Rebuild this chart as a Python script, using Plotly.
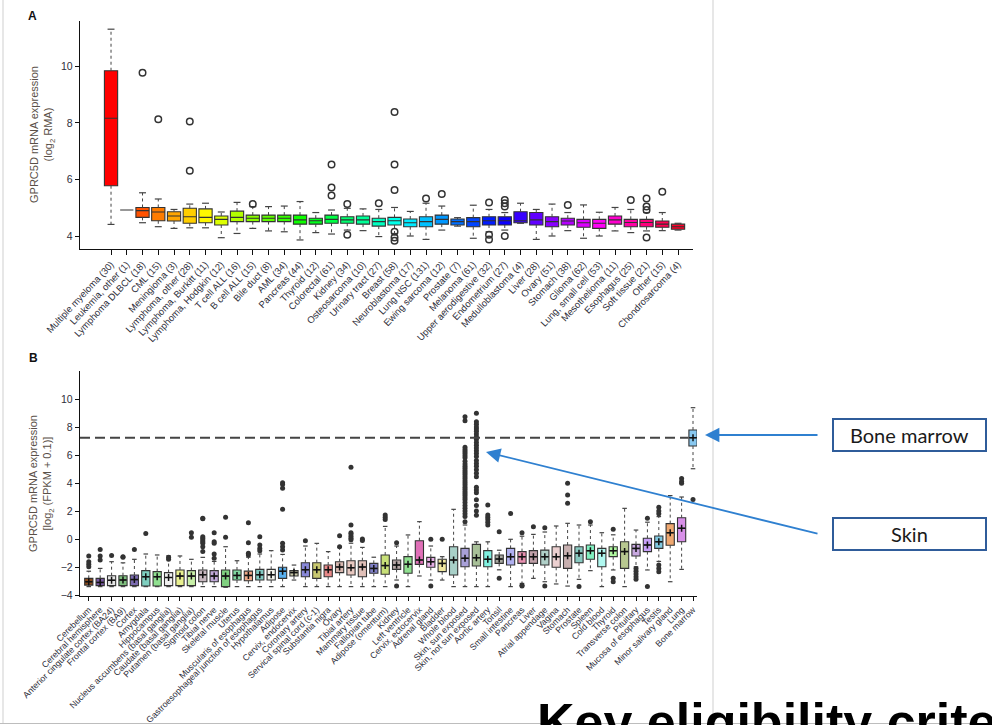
import colorsys
import plotly.graph_objects as go

W, H = 992, 725

# ---------------- Panel A data (log2 RMA) ----------------
A_CATS = ["Multiple myeloma (30)", "Leukemia, other (1)", "Lymphoma DLBCL (18)", "CML (15)",
          "Meningioma (3)", "Lymphoma, other (28)", "Lymphoma, Burkitt (11)", "Lymphoma, Hodgkin (12)",
          "T cell ALL (16)", "B cell ALL (15)", "Bile duct (8)", "AML (34)", "Pancreas (44)",
          "Thyroid (12)", "Colorectal (61)", "Kidney (34)", "Osteosarcoma (10)", "Urinary tract (27)",
          "Breast (58)", "Neuroblastoma (17)", "Lung NSC (131)", "Ewing sarcoma (12)", "Prostate (7)",
          "Melanoma (61)", "Upper aerodigestive (32)", "Endometrium (27)", "Medulloblastoma (4)",
          "Liver (28)", "Ovary (51)", "Stomach (38)", "Glioma (62)", "Lung, small cell (53)",
          "Mesothelioma (11)", "Esophagus (25)", "Soft tissue (21)", "Other (15)", "Chondrosarcoma (4)"]
A_Q1 = [5.78, 4.92, 4.66, 4.54, 4.53, 4.45, 4.47, 4.39, 4.51, 4.51, 4.51, 4.51, 4.42, 4.42, 4.45, 4.45,
        4.42, 4.35, 4.39, 4.33, 4.33, 4.42, 4.39, 4.33, 4.39, 4.39, 4.47, 4.39, 4.33, 4.39, 4.31, 4.27,
        4.42, 4.33, 4.33, 4.31, 4.24]
A_MED = [8.17, 4.92, 4.90, 4.85, 4.71, 4.68, 4.66, 4.59, 4.66, 4.63, 4.63, 4.63, 4.57, 4.54, 4.59, 4.57,
         4.57, 4.51, 4.54, 4.47, 4.51, 4.59, 4.51, 4.51, 4.54, 4.54, 4.54, 4.57, 4.51, 4.53, 4.47, 4.45,
         4.57, 4.48, 4.48, 4.42, 4.33]
A_Q3 = [9.85, 4.92, 5.01, 5.01, 4.86, 4.98, 4.96, 4.71, 4.88, 4.74, 4.74, 4.74, 4.74, 4.63, 4.74, 4.68,
        4.71, 4.63, 4.66, 4.60, 4.68, 4.74, 4.60, 4.65, 4.68, 4.68, 4.86, 4.83, 4.68, 4.63, 4.59, 4.59,
        4.71, 4.59, 4.59, 4.53, 4.42]
A_LO = [4.41, 4.92, 4.47, 4.33, 4.27, 4.29, 4.29, 3.94, 4.09, 4.27, 4.18, 4.15, 3.86, 4.12, 4.07, 4.21,
        4.19, 3.98, 4.09, 4.00, 3.88, 4.21, 4.35, 3.92, 4.15, 4.21, 4.45, 3.88, 4.00, 4.19, 3.92, 4.00,
        4.18, 4.12, 4.18, 4.19, 4.21]
A_HI = [11.32, 4.92, 5.53, 5.31, 4.94, 5.13, 5.16, 4.85, 5.19, 5.04, 5.04, 5.06, 5.22, 4.83, 4.92, 4.98,
        4.96, 4.94, 5.01, 4.87, 5.16, 5.06, 4.65, 5.09, 4.94, 4.83, 5.16, 4.94, 5.13, 4.83, 5.10, 4.84,
        5.01, 4.94, 4.83, 4.83, 4.45]
A_OUT = [[], [], [9.78], [8.13], [], [8.05, 6.31], [], [], [], [5.13], [], [], [], [],
         [6.53, 5.72, 5.43], [5.13, 4.04], [], [5.16], [8.39, 6.53, 5.63, 4.15, 3.95, 3.83], [], [5.33],
         [5.49], [], [], [5.19, 4.04, 3.88], [5.27, 5.16, 5.04, 4.00], [], [], [], [5.10], [], [], [],
         [5.27], [5.33, 5.04, 4.92, 3.95], [5.57], []]

# ---------------- Panel B data (log2(FPKM + 0.1)) ----------------
B_CATS = ["Cerebellum", "Cerebral hemisphere", "Anterior cingulate cortex (BA24)", "Frontal cortex (BA9)",
          "Cortex", "Amygdala", "Hippocampus", "Nucleus accumbens (basal ganglia)", "Caudate (basal ganglia)",
          "Putamen (basal ganglia)", "Sigmoid colon", "Tibial nerve", "Skeletal muscle", "Uterus",
          "Muscularis of esophagus", "Gastroesophageal junction of esophagus", "Hypothalamus", "Adipose",
          "Cervix, endocervix", "Coronary artery", "Servical spinal cord (c-1)", "Substantia nigra", "Ovary",
          "Tibial artery", "Mammary tissue", "Fallopian tube", "Adipose (omentum)", "Kidney",
          "Left ventricle", "Cervix, ectocervix", "Adrenal gland", "Bladder", "Whole blood",
          "Skin, sun exposed", "Skin, not sun exposed", "Aortic artery", "Tonsil", "Small intestine",
          "Pancreas", "Liver", "Atrial appendage", "Vagina", "Stomach", "Prostate", "Spleen", "Cold blood",
          "Thyroid", "Transverse colon", "Pituitary", "Mucosa of esophagus", "Testis",
          "Minor salivary gland", "Lung", "Bone marrow"]
B_Q1 = [-3.29, -3.33, -3.33, -3.33, -3.33, -3.36, -3.36, -3.33, -3.33, -3.33, -3.05, -3.05, -3.40, -2.93,
        -2.98, -2.93, -2.93, -2.81, -2.64, -2.69, -2.81, -2.69, -2.40, -2.57, -2.69, -2.45, -2.52, -2.17,
        -2.45, -1.81, -2.02, -2.33, -2.57, -1.98, -1.93, -1.98, -1.74, -1.86, -1.74, -1.74, -1.86, -2.02,
        -2.10, -1.69, -1.45, -1.98, -1.26, -2.10, -1.21, -0.90, -0.67, -0.45, -0.19, 6.64]
B_MED = [-3.05, -3.10, -2.95, -2.93, -2.90, -2.70, -2.70, -2.75, -2.65, -2.65, -2.55, -2.65, -2.65, -2.60,
         -2.60, -2.55, -2.55, -2.30, -2.40, -2.20, -2.20, -2.20, -2.00, -2.05, -2.00, -2.10, -1.90, -1.86,
         -1.80, -1.50, -1.62, -1.74, -1.50, -1.38, -1.33, -1.45, -1.43, -1.26, -1.26, -1.26, -1.26, -1.26,
         -1.20, -1.02, -0.83, -1.02, -0.83, -0.90, -0.67, -0.43, -0.19, 0.45, 0.76, 7.24]
B_Q3 = [-2.81, -2.81, -2.62, -2.62, -2.57, -2.26, -2.33, -2.40, -2.21, -2.26, -2.21, -2.26, -2.21, -2.21,
        -2.29, -2.17, -2.17, -2.02, -2.26, -1.69, -1.69, -1.86, -1.62, -1.55, -1.55, -1.74, -1.14, -1.50,
        -1.26, -0.12, -1.31, -1.45, -0.55, -0.67, -0.38, -0.83, -1.14, -0.67, -0.90, -0.83, -0.79, -0.55,
        -0.43, -0.55, -0.43, -0.67, -0.55, -0.19, -0.38, 0.05, 0.21, 1.10, 1.52, 7.79]
B_LO = [-3.40, -3.40, -3.40, -3.40, -3.40, -3.40, -3.40, -3.40, -3.40, -3.40, -3.40, -3.40, -3.45, -3.40,
        -3.40, -3.40, -3.40, -3.40, -2.93, -3.40, -3.40, -3.40, -3.40, -3.40, -3.40, -3.40, -3.40, -2.93,
        -3.40, -2.64, -2.93, -2.93, -3.40, -3.40, -3.40, -3.40, -2.20, -3.40, -3.17, -2.81, -3.05, -3.21,
        -3.36, -2.88, -2.26, -3.40, -2.21, -3.40, -1.98, -2.21, -1.60, -3.05, -2.17, 5.02]
B_HI = [-2.30, -2.10, -1.62, -1.70, -1.45, -1.07, -1.14, -1.20, -1.21, -1.45, -1.31, -1.60, -0.55, -1.55,
        -1.30, -1.07, -0.83, -1.10, -1.86, -0.50, -0.31, -0.90, -0.60, -0.30, -0.60, -1.30, 0.90, -0.50,
        0.29, 1.24, -0.50, -1.26, 2.12, 1.00, -0.20, -0.20, -0.80, -0.02, 0.20, 0.33, 0.50, 0.93,
        1.12, 1.00, 1.00, 0.45, 0.30, 2.19, 0.64, 1.20, 1.60, 3.10, 3.00, 9.38]
B_OUT = [[-1.21, -1.62, -1.80, -1.98], [-0.74, -1.21, -1.50], [-1.17], [-1.26, -1.30], [-0.74], [0.40], [],
         [-1.30, -1.45], [], [0.45, 0.12],
         [1.48, 1.45, 0.17, 0.05, -0.07, -0.20, -0.31, -0.55, -0.90],
         [0.45, -0.19, -0.31, -1.07, -1.38], [1.55, 0.12], [], [1.17, -0.26, -1.02, -1.14],
         [0.17, -0.43, -0.67, -0.83], [], [4.02, 3.90, 3.62, 2.12, -0.31, -0.55, -0.79], [], [-0.12], [], [],
         [0.24, -0.55], [5.12, 1.00, 0.45, 0.35, 0.20, 0.05, -0.05], [0.00, -0.10], [],
         [1.71, 1.55, 1.40], [-0.26, -3.36], [], [], [-0.02, -3.36], [-0.02], [],
         [8.74, 8.45, 6.55, 6.40, 6.25, 6.10, 5.95, 5.80, 5.55, 5.35, 5.20, 5.05, 4.90, 4.75, 4.60, 4.45,
          4.30, 4.15, 4.00, 3.85, 3.70, 3.55, 3.40, 3.25, 3.10, 2.95, 2.80, 2.60, 2.40, 2.20, 2.00, 1.80,
          1.60, 1.24],
         [8.98, 8.38, 8.20, 8.00, 7.85, 7.70, 7.50, 7.30, 7.10, 6.90, 6.70, 6.50, 6.30, 6.10, 5.90, 5.60,
          5.40, 5.20, 4.95, 4.70, 4.45, 3.70, 3.50, 3.30, 2.80, 2.40, 2.00, 1.70],
         [2.43, 1.71, 1.55, 1.40, 1.20, 1.00], [0.52, -2.81], [1.83], [0.45, -3.30, -3.36], [0.88],
         [0.81, -3.36], [], [3.98, 3.14, 2.55], [-3.40], [1.24], [], [0.69, -2.81, -3.05], [],
         [-2.10, -2.30, -2.50, -2.70, -2.88], [1.48, -3.40], [2.26, 2.00, 1.80, -1.86, -2.10, -2.33], [],
         [4.33, 4.10, 3.98], [2.83]]
B_COLORS = ["#8c4a1c", "#7b5aa6", "#e6e6e6", "#7fbf7f", "#7b6bb0", "#7fcfc0", "#90e090", "#f0f0f0",
            "#e8f090", "#c8f0a8", "#c8b8c0", "#c0a8d8", "#80d080", "#80d8a0", "#f0a888", "#80c8c0",
            "#f4f4ec", "#58b0f0", "#c8c8a8", "#8888d8", "#c8c870", "#e88888", "#d8b8b0", "#e8c8c0",
            "#e0c0b8", "#8080c8", "#c8e078", "#b8a8a8", "#90e090", "#e070b8", "#e8b0e8", "#f0e8a0",
            "#a8d0c8", "#a8a0d8", "#a8c098", "#80f0e0", "#a8a8a0", "#b0b0f0", "#e890b0", "#c0a0a8",
            "#b0d0c8", "#ecd0d0", "#c8b0b0", "#88c8c0", "#80f0c0", "#b0f8f0", "#b0f8a0", "#b8c890",
            "#c8a8e0", "#c8a0f8", "#80c8e0", "#f0a870", "#d890e8", "#88c8f0"]

FONT = "Liberation Sans, Arial, sans-serif"
TXT = "#2e2e3a"


def px_x(p):
    return p / W


def px_y(p):
    return 1 - p / H


def rainbow(n):
    out = []
    for i in range(n):
        r, g, b = colorsys.hsv_to_rgb(i / n, 1, 1)
        out.append("#%02x%02x%02x" % (int(r * 255), int(g * 255), int(b * 255)))
    return out


A_COLORS = rainbow(len(A_CATS))

fig = go.Figure()


def add_panel(xa, ya, q1s, meds, q3s, los, his, outs, colors, bw, cap, out_style, mean_marks):
    n = len(q1s)
    for i in range(n):
        fig.add_trace(go.Box(x=[i], q1=[q1s[i]], median=[meds[i]], q3=[q3s[i]],
                             lowerfence=[q1s[i]], upperfence=[q3s[i]], width=bw, whiskerwidth=0,
                             fillcolor=colors[i], line=dict(color="#333333", width=1.1),
                             boxpoints=False, hoverinfo="skip", showlegend=False,
                             xaxis=xa, yaxis=ya))
    wx, wy, cx, cy = [], [], [], []
    for i in range(n):
        if his[i] > q3s[i]:
            wx += [i, i, None]
            wy += [q3s[i], his[i], None]
            cx += [i - cap, i + cap, None]
            cy += [his[i], his[i], None]
        if los[i] < q1s[i]:
            wx += [i, i, None]
            wy += [q1s[i], los[i], None]
            cx += [i - cap, i + cap, None]
            cy += [los[i], los[i], None]
    fig.add_trace(go.Scatter(x=wx, y=wy, mode="lines", line=dict(color="#444", width=1, dash="dot"),
                             hoverinfo="skip", showlegend=False, xaxis=xa, yaxis=ya))
    fig.add_trace(go.Scatter(x=cx, y=cy, mode="lines", line=dict(color="#444", width=1.2),
                             hoverinfo="skip", showlegend=False, xaxis=xa, yaxis=ya))
    ox, oy = [], []
    for i in range(n):
        for v in outs[i]:
            ox.append(i)
            oy.append(v)
    fig.add_trace(go.Scatter(x=ox, y=oy, mode="markers", marker=out_style,
                             hoverinfo="skip", showlegend=False, xaxis=xa, yaxis=ya))
    if mean_marks:
        fig.add_trace(go.Scatter(x=list(range(n)), y=meds, mode="markers",
                                 marker=dict(symbol="cross-thin", size=5, line=dict(color="#111", width=1.5)),
                                 hoverinfo="skip", showlegend=False, xaxis=xa, yaxis=ya))


add_panel("x", "y", A_Q1, A_MED, A_Q3, A_LO, A_HI, A_OUT, A_COLORS, 0.84, 0.22,
          dict(symbol="circle-open", size=6.5, color="#333", line=dict(width=1.5, color="#333")), False)
add_panel("x2", "y2", B_Q1, B_MED, B_Q3, B_LO, B_HI, B_OUT, B_COLORS, 0.72, 0.2,
          dict(symbol="circle", size=5, color="#333"), True)

# dashed reference line at bone marrow median
bm = len(B_CATS) - 1
fig.add_trace(go.Scatter(x=[-0.77, bm - 0.4], y=[B_MED[bm], B_MED[bm]], mode="lines",
                         line=dict(color="#444", width=2, dash="10px,5px"),
                         hoverinfo="skip", showlegend=False, xaxis="x2", yaxis="y2"))


def axstyle(**kw):
    d = dict(showgrid=False, zeroline=False, showline=True, linecolor="#111", linewidth=1.4,
             ticks="outside", tickcolor="#111", ticklen=4, tickwidth=1.1, automargin=False)
    d.update(kw)
    return d


fig.update_layout(
    width=W, height=H, margin=dict(l=0, r=0, t=0, b=0, autoexpand=False),
    paper_bgcolor="white", plot_bgcolor="white", showlegend=False,
    font=dict(family=FONT, color=TXT),
    xaxis=axstyle(domain=[px_x(80), px_x(693)], range=[-1.97, 36.95], anchor="y",
                  tickmode="array", tickvals=list(range(len(A_CATS))), ticktext=A_CATS, tickangle=-47,
                  tickfont=dict(size=9.5, color=TXT, family=FONT), ticklen=5),
    yaxis=axstyle(domain=[px_y(249), px_y(21)], range=[3.54, 11.61], anchor="x",
                  tickvals=[4, 6, 8, 10], tickfont=dict(size=10.5, color=TXT, family=FONT)),
    xaxis2=axstyle(domain=[px_x(80), px_x(697)], range=[-0.77, 53.35], anchor="y2",
                   tickmode="array", tickvals=list(range(len(B_CATS))), ticktext=B_CATS, tickangle=-45,
                   tickfont=dict(size=8.8, color=TXT, family=FONT)),
    yaxis2=axstyle(domain=[px_y(596), px_y(371)], range=[-4.07, 12.0], anchor="x2",
                   tickvals=[-4, -2, 0, 2, 4, 6, 8, 10], tickfont=dict(size=10.5, color=TXT, family=FONT)),
)


def label(text, x, y, size, color, family=FONT, angle=0, xanchor="center", yanchor="middle"):
    return dict(text=text, x=px_x(x), y=px_y(y), xref="paper", yref="paper", showarrow=False,
                xanchor=xanchor, yanchor=yanchor, textangle=angle,
                font=dict(size=size, color=color, family=family))


ann = [
    label("<b>A</b>", 32, 16, 12, "#111"),
    label("<b>B</b>", 33, 358, 12, "#111"),
    label("GPRC5D mRNA expression<br>(log<sub>2</sub> RMA)", 42, 135, 11, "#5a5048", angle=-90),
    label("GPRC5D mRNA expression<br>[log<sub>2</sub> (FPKM + 0.1)]", 42, 484, 11, "#5a5048", angle=-90),
    label("Bone marrow", 909.5, 435, 20, "#1a1a1a", family="Lato, Carlito, sans-serif"),
    label("Skin", 909.5, 534, 20, "#1a1a1a", family="Lato, Carlito, sans-serif"),
    label("<b>Key eligibility criteria</b>", 535, 722, 52, "#000", xanchor="left"),
]
ann.append(dict(text="", x=px_x(705), y=px_y(435), xref="paper", yref="paper", showarrow=True,
                ax=114, ay=0, axref="pixel", ayref="pixel", arrowhead=2, arrowsize=1.6, arrowwidth=1.8,
                arrowcolor="#2f80d0", standoff=0))
ann.append(dict(text="", x=px_x(486), y=px_y(452), xref="paper", yref="paper", showarrow=True,
                ax=333, ay=82, axref="pixel", ayref="pixel", arrowhead=2, arrowsize=1.6, arrowwidth=1.8,
                arrowcolor="#2f80d0", standoff=0))
fig.update_layout(annotations=ann)

shapes = []
for (y0, y1) in [(419, 451), (518, 550)]:
    shapes.append(dict(type="rect", xref="paper", yref="paper", x0=px_x(833), x1=px_x(986),
                       y0=px_y(y1), y1=px_y(y0), line=dict(color="#2f5c9a", width=2),
                       fillcolor="rgba(0,0,0,0)"))
shapes.append(dict(type="line", xref="paper", yref="paper", x0=px_x(3), x1=px_x(3), y0=px_y(723.5), y1=1,
                   line=dict(color="#cfcfcf", width=1)))
shapes.append(dict(type="line", xref="paper", yref="paper", x0=px_x(713), x1=px_x(713), y0=px_y(723.5), y1=1,
                   line=dict(color="#cfcfcf", width=1)))
shapes.append(dict(type="line", xref="paper", yref="paper", x0=0, x1=1, y0=px_y(723.5), y1=px_y(723.5),
                   line=dict(color="#bdbdbd", width=1)))
fig.update_layout(shapes=shapes)

fig.write_html("out.html")
